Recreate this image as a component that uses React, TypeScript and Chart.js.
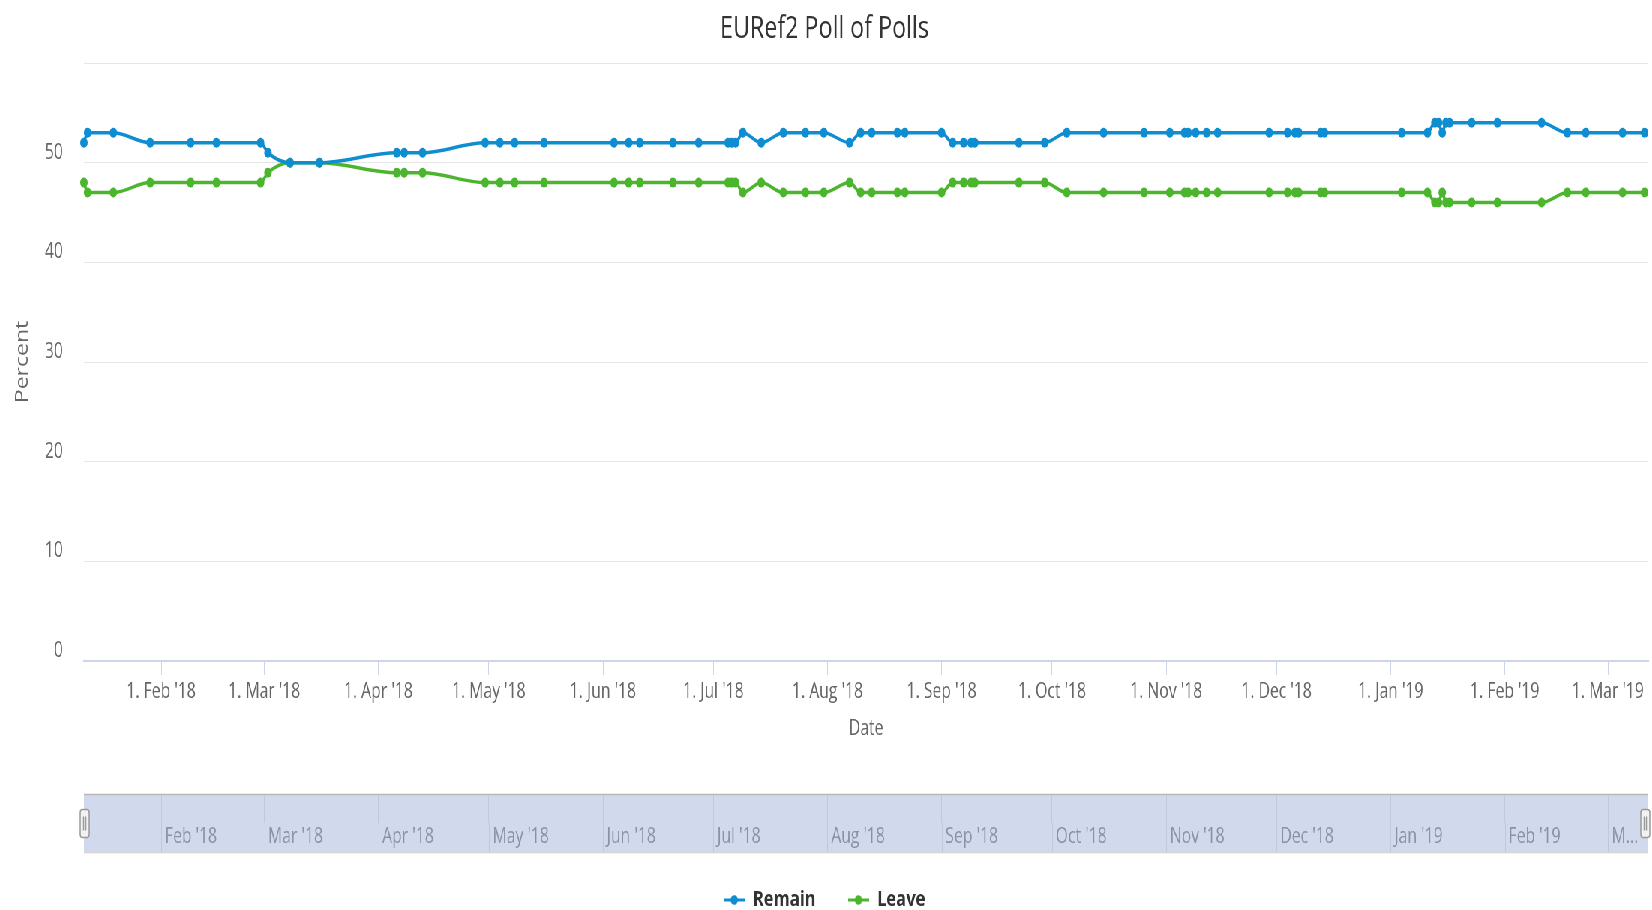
import React, { useEffect, useRef } from 'react';
import { Chart, registerables } from 'chart.js';

Chart.register(...registerables);

// ---------- data ----------
const pollDates = [
  '2018-01-11', '2018-01-12', '2018-01-19', '2018-01-29', '2018-02-09', '2018-02-16', '2018-02-28',
  '2018-03-02', '2018-03-08', '2018-03-16', '2018-04-06', '2018-04-08', '2018-04-13', '2018-04-30',
  '2018-05-04', '2018-05-08', '2018-05-16', '2018-06-04', '2018-06-08', '2018-06-11', '2018-06-20',
  '2018-06-27', '2018-07-05', '2018-07-06', '2018-07-07', '2018-07-09', '2018-07-14', '2018-07-20',
  '2018-07-26', '2018-07-31', '2018-08-07', '2018-08-10', '2018-08-13', '2018-08-20', '2018-08-22',
  '2018-09-01', '2018-09-04', '2018-09-07', '2018-09-09', '2018-09-10', '2018-09-22', '2018-09-29',
  '2018-10-05', '2018-10-15', '2018-10-26', '2018-11-02', '2018-11-06', '2018-11-07', '2018-11-09',
  '2018-11-12', '2018-11-15', '2018-11-29', '2018-12-04', '2018-12-06', '2018-12-07', '2018-12-13',
  '2018-12-14', '2019-01-04', '2019-01-11', '2019-01-13', '2019-01-14', '2019-01-15', '2019-01-16',
  '2019-01-17', '2019-01-23', '2019-01-30', '2019-02-11', '2019-02-18', '2019-02-23', '2019-03-05',
  '2019-03-11',
];

const remain = [
  52, 53, 53, 52, 52, 52, 52,
  51, 50, 50, 51, 51, 51, 52,
  52, 52, 52, 52, 52, 52, 52,
  52, 52, 52, 52, 53, 52, 53,
  53, 53, 52, 53, 53, 53, 53,
  53, 52, 52, 52, 52, 52, 52,
  53, 53, 53, 53, 53, 53, 53,
  53, 53, 53, 53, 53, 53, 53,
  53, 53, 53, 54, 54, 53, 54,
  54, 54, 54, 54, 53, 53, 53,
  53,
];

const leave = [
  48, 47, 47, 48, 48, 48, 48,
  49, 50, 50, 49, 49, 49, 48,
  48, 48, 48, 48, 48, 48, 48,
  48, 48, 48, 48, 47, 48, 47,
  47, 47, 48, 47, 47, 47, 47,
  47, 48, 48, 48, 48, 48, 48,
  47, 47, 47, 47, 47, 47, 47,
  47, 47, 47, 47, 47, 47, 47,
  47, 47, 47, 46, 46, 47, 46,
  46, 46, 46, 46, 47, 47, 47,
  47,
];

const axisStart = '2018-01-11';
const axisEnd = '2019-03-12';

const tickDates = [
  '2018-02-01', '2018-03-01', '2018-04-01', '2018-05-01', '2018-06-01', '2018-07-01', '2018-08-01',
  '2018-09-01', '2018-10-01', '2018-11-01', '2018-12-01', '2019-01-01', '2019-02-01', '2019-03-01',
];
const tickLabels = [
  "1. Feb '18", "1. Mar '18", "1. Apr '18", "1. May '18", "1. Jun '18", "1. Jul '18", "1. Aug '18",
  "1. Sep '18", "1. Oct '18", "1. Nov '18", "1. Dec '18", "1. Jan '19", "1. Feb '19", "1. Mar '19",
];
const navLabels = [
  "Feb '18", "Mar '18", "Apr '18", "May '18", "Jun '18", "Jul '18", "Aug '18",
  "Sep '18", "Oct '18", "Nov '18", "Dec '18", "Jan '19", "Feb '19", 'M...',
];

const yMin = 0;
const yMax = 60;
const yStep = 10;

// ---------- styling ----------
const SX = 0.75;
const W = Math.round(1652 / SX);
const H = 921;
const NAV_TOP = 782;
const NAV_H = 80;
const FONT = '"Open Sans", "DejaVu Sans", sans-serif';
const BLUE = '#0f8dd1';
const GREEN = '#4cb52e';
const NAV_GRID = 'rgb(192,201,219)';

const toDay = (s: string) => {
  const [y, m, d] = s.split('-').map(Number);
  return Date.UTC(y, m - 1, d) / 86400000;
};
const tickDays = tickDates.map(toDay);

function makeSymbol(color: string) {
  const c = document.createElement('canvas');
  c.width = 28;
  c.height = 12;
  const ctx = c.getContext('2d')!;
  ctx.strokeStyle = color;
  ctx.lineWidth = 3;
  ctx.beginPath();
  ctx.moveTo(0, 6);
  ctx.lineTo(28, 6);
  ctx.stroke();
  ctx.fillStyle = color;
  ctx.beginPath();
  ctx.arc(14, 6, 4.8, 0, Math.PI * 2);
  ctx.fill();
  return c;
}

export default function App() {
  const mainRef = useRef<HTMLCanvasElement>(null);
  const navRef = useRef<HTMLCanvasElement>(null);

  useEffect(() => {
    const xMin = toDay(axisStart);
    const xMax = toDay(axisEnd);
    const symbols = [makeSymbol(BLUE), makeSymbol(GREEN)];
    const tickFont = { family: FONT, size: 21 };

    const series = (vals: number[]) => pollDates.map((d, i) => ({ x: toDay(d), y: vals[i] }));
    const ds = (label: string, vals: number[], color: string) => ({
      label,
      data: series(vals),
      borderColor: color,
      backgroundColor: color,
      pointBackgroundColor: color,
      borderWidth: 3.5,
      pointRadius: 5,
      pointBorderWidth: 0,
      cubicInterpolationMode: 'monotone' as const,
      fill: false,
      clip: 10,
    });

    const main = new Chart(mainRef.current!, {
      type: 'line',
      data: { datasets: [ds('Remain', remain, BLUE), ds('Leave', leave, GREEN)] },
      options: {
        responsive: false,
        animation: false,
        devicePixelRatio: 1,
        layout: { padding: { left: 0, right: 4, top: 0, bottom: 0 } },
        plugins: {
          title: {
            display: true,
            text: 'EURef2 Poll of Polls',
            color: '#333333',
            font: { family: FONT, size: 31, weight: 'normal' },
            padding: { top: 10.4, bottom: 15.4 },
          },
          legend: {
            position: 'bottom',
            labels: {
              usePointStyle: true,
              pointStyleWidth: 28,
              padding: 43,
              color: '#333333',
              font: { family: FONT, size: 22, weight: 'bold' },
              generateLabels: (chart: any) => {
                const items = (Chart.defaults.plugins.legend.labels as any).generateLabels(chart);
                return items.map((it: any, i: number) => ({ ...it, pointStyle: symbols[i] }));
              },
            },
          },
          tooltip: { enabled: false },
        },
        scales: {
          x: {
            type: 'linear',
            min: xMin,
            max: xMax,
            bounds: 'data',
            afterBuildTicks: (s: any) => {
              s.ticks = tickDays.map((v) => ({ value: v }));
            },
            ticks: {
              autoSkip: false,
              maxRotation: 0,
              color: '#666666',
              font: tickFont,
              padding: 4,
              callback: (_v: any, i: number) => tickLabels[i],
            },
            grid: { drawOnChartArea: false, drawTicks: true, tickLength: 14, color: '#ccd6eb', lineWidth: 1 },
            border: { display: true, color: '#ccd6eb', width: 2 },
            title: {
              display: true,
              text: 'Date',
              color: '#666666',
              font: tickFont,
              padding: { top: 8, bottom: 104.6 },
            },
          },
          y: {
            min: yMin,
            max: yMax,
            afterFit: (s: any) => {
              s.width = 112;
            },
            ticks: {
              stepSize: yStep,
              color: '#666666',
              font: tickFont,
              padding: 28,
              labelOffset: -10,
              callback: (v: any) => (v === yMax ? '' : String(v)),
            },
            grid: { color: '#e6e6e6', drawTicks: false, lineWidth: 1 },
            border: { display: false },
            title: {
              display: true,
              text: 'Percent',
              color: '#666666',
              font: { family: FONT, size: 23 },
              padding: { top: 17, bottom: 0 },
            },
          },
        },
      } as any,
    });

    const area = main.chartArea;
    const BAND_EXTRA = 2;

    const navBand = {
      id: 'navBand',
      beforeDraw(chart: any) {
        const { ctx, chartArea } = chart;
        const xs = chart.scales.x;
        const bottom = xs.bottom + BAND_EXTRA;
        ctx.save();
        ctx.fillStyle = 'rgb(209,218,237)';
        ctx.fillRect(chartArea.left, chartArea.top, chartArea.right - chartArea.left, bottom - chartArea.top);
        // continue the month grid lines through the label strip
        ctx.strokeStyle = NAV_GRID;
        ctx.lineWidth = 1;
        ctx.beginPath();
        xs.ticks.forEach((t: any) => {
          const px = Math.round(xs.getPixelForValue(t.value)) + 0.5;
          ctx.moveTo(px, chartArea.bottom);
          ctx.lineTo(px, bottom);
        });
        ctx.stroke();
        ctx.restore();
      },
      afterDraw(chart: any) {
        const { ctx, chartArea } = chart;
        const xs = chart.scales.x;
        const bottom = xs.bottom + BAND_EXTRA;
        ctx.save();
        ctx.strokeStyle = '#b8b8b8';
        ctx.lineWidth = 1.5;
        ctx.beginPath();
        ctx.moveTo(chartArea.left, chartArea.top + 0.5);
        ctx.lineTo(chartArea.right, chartArea.top + 0.5);
        ctx.stroke();
        ctx.strokeStyle = '#d5d5d5';
        ctx.beginPath();
        ctx.moveTo(chartArea.left, bottom - 0.5);
        ctx.lineTo(chartArea.right, bottom - 0.5);
        ctx.stroke();
        const mid = (chartArea.top + bottom) / 2;
        [xs.getPixelForValue(xs.min) + 1, xs.getPixelForValue(xs.max) - 4].forEach((hx: number) => {
          ctx.fillStyle = '#f2f2f2';
          ctx.strokeStyle = '#999999';
          ctx.lineWidth = 1.5;
          ctx.beginPath();
          (ctx as any).roundRect ? (ctx as any).roundRect(hx - 6, mid - 14, 12, 28, 3) : ctx.rect(hx - 6, mid - 14, 12, 28);
          ctx.fill();
          ctx.stroke();
          ctx.beginPath();
          ctx.moveTo(hx - 1.5, mid - 7);
          ctx.lineTo(hx - 1.5, mid + 7);
          ctx.moveTo(hx + 1.5, mid - 7);
          ctx.lineTo(hx + 1.5, mid + 7);
          ctx.stroke();
        });
        ctx.restore();
      },
    };

    const nav = new Chart(navRef.current!, {
      type: 'line',
      data: { datasets: [] },
      options: {
        responsive: false,
        animation: false,
        devicePixelRatio: 1,
        layout: { padding: { left: area.left, right: W - area.right, top: 12, bottom: 10.9 } },
        plugins: { legend: { display: false }, title: { display: false }, tooltip: { enabled: false } },
        scales: {
          x: {
            type: 'linear',
            min: xMin,
            max: xMax,
            bounds: 'data',
            afterBuildTicks: (s: any) => {
              s.ticks = tickDays.map((v) => ({ value: v }));
            },
            ticks: {
              autoSkip: false,
              maxRotation: 0,
              align: 'start',
              labelOffset: 5,
              padding: 2,
              color: 'rgb(138,147,165)',
              font: tickFont,
              callback: (_v: any, i: number) => navLabels[i],
            },
            grid: { drawOnChartArea: true, drawTicks: false, color: NAV_GRID, lineWidth: 1 },
            border: { display: false },
          },
          y: { display: false, min: 0, max: 1 },
        },
      } as any,
      plugins: [navBand],
    });

    return () => {
      main.destroy();
      nav.destroy();
    };
  }, []);

  return (
    <div style={{ position: 'fixed', left: 0, top: 0, width: 1652, height: 910, overflow: 'hidden', background: '#ffffff' }}>
      <div
        style={{
          position: 'absolute',
          left: 0,
          top: 0,
          width: W,
          height: H,
          transform: `scaleX(${1652 / W})`,
          transformOrigin: '0 0',
        }}
      >
        <canvas ref={mainRef} width={W} height={H} style={{ position: 'absolute', left: 0, top: 0, width: W, height: H }} />
        <canvas ref={navRef} width={W} height={NAV_H} style={{ position: 'absolute', left: 0, top: NAV_TOP, width: W, height: NAV_H }} />
      </div>
    </div>
  );
}
